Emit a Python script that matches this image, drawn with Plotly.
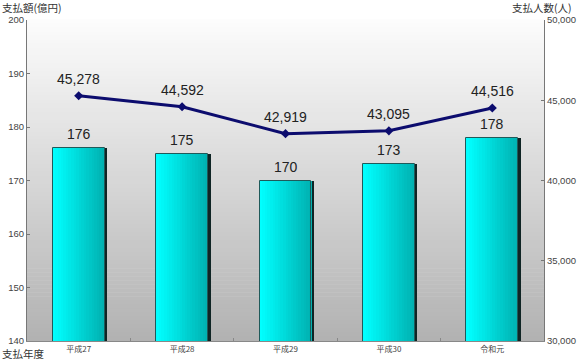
import plotly.graph_objects as go

years = ["平成27", "平成28", "平成29", "平成30", "令和元"]
amount = [176, 175, 170, 173, 178]          # 支払額(億円)
people = [45278, 44592, 42919, 43095, 44516]  # 支払人数(人)
left_ticks = [140, 150, 160, 170, 180, 190, 200]
right_ticks = [30000, 35000, 40000, 45000, 50000]
right_tick_text = ["30,000", "35,000", "40,000", "45,000", "50,000"]

NUM_FONT = "Liberation Sans, Arial, sans-serif"
LBL_FONT = "Liberation Sans Narrow, Arial Narrow, Liberation Sans, sans-serif"
JP_FONT = "Noto Sans CJK JP, sans-serif"

W, H = 583, 360
ML, MR, MT, MB = 27, 39, 20, 19
PW = W - ML - MR
PH = H - MT - MB

fig = go.Figure()

# shadow of bars (dark right edge)
fig.add_trace(go.Bar(x=years, y=amount, width=0.03, offset=0.245,
                     marker=dict(color="#0f2424", line=dict(width=0)),
                     hoverinfo="skip", showlegend=False))

# bars with horizontal gradient (slices)
n = 20
bw = 0.5
for i in range(n):
    t = i / (n - 1)
    g = int(round(255 - t * (255 - 178)))
    col = f"rgb(0,{g},{g})"
    fig.add_trace(go.Bar(x=years, y=amount, width=bw / n + 0.002,
                         offset=-bw / 2 + i * bw / n,
                         marker=dict(color=col, line=dict(width=0)),
                         hoverinfo="skip", showlegend=False))
# outline
fig.add_trace(go.Bar(x=years, y=amount, width=bw, offset=-bw / 2,
                     marker=dict(color="rgba(0,0,0,0)", line=dict(width=1, color="#1f5a5a")),
                     hoverinfo="skip", showlegend=False))

# line
fig.add_trace(go.Scatter(x=years, y=people, yaxis="y2", mode="lines+markers",
                         line=dict(color="#0c0c6e", width=3),
                         marker=dict(symbol="diamond", size=7, color="#0c0c6e"),
                         showlegend=False, hoverinfo="skip"))

annotations = []
for x, v in zip(years, amount):
    annotations.append(dict(x=x, y=v, xref="x", yref="y", text=str(v), showarrow=False,
                            yshift=14, font=dict(family=LBL_FONT, size=14, color="#222222")))
for x, v in zip(years, people):
    annotations.append(dict(x=x, y=v, xref="x", yref="y2", text=f"{v:,}", showarrow=False,
                            yshift=17, font=dict(family=LBL_FONT, size=14, color="#222222")))
annotations += [
    dict(x=-ML / PW, y=1 + (MT - 8) / PH, xref="paper", yref="paper", xanchor="left",
         yanchor="middle", text="支払額(億円)", showarrow=False,
         font=dict(family=JP_FONT, size=10.5, color="#333333")),
    dict(x=1 + 30 / PW, y=1 + (MT - 8) / PH, xref="paper", yref="paper", xanchor="right",
         yanchor="middle", text="支払人数(人)", showarrow=False,
         font=dict(family=JP_FONT, size=10.5, color="#333333")),
    dict(x=-ML / PW, y=-12 / PH, xref="paper", yref="paper", xanchor="left",
         yanchor="middle", text="支払年度", showarrow=False,
         font=dict(family=JP_FONT, size=10.5, color="#333333")),
]

# vertical gradient background
shapes = []
m = 80
for i in range(m):
    t = i / (m - 1)
    c = int(round(252 - t * (252 - 178)))
    shapes.append(dict(type="rect", xref="paper", yref="paper", x0=0, x1=1,
                       y0=1 - (i + 1) / m, y1=1 - i / m + 0.002, layer="below",
                       line=dict(width=0), fillcolor=f"rgb({c},{c},{c})"))

fig.update_layout(
    width=W, height=H,
    margin=dict(l=ML, r=MR, t=MT, b=MB, autoexpand=False),
    paper_bgcolor="white", plot_bgcolor="white",
    barmode="overlay", bargap=0,
    shapes=shapes, annotations=annotations,
    xaxis=dict(type="category", showgrid=False, showline=True, linecolor="#888888",
               ticks="inside", ticklen=3, tickcolor="#888888", tickson="boundaries",
               automargin=False,
               tickfont=dict(family=JP_FONT, size=8, color="#444444"), mirror=False),
    yaxis=dict(range=[140, 200], tickvals=left_ticks, showgrid=False, zeroline=False,
               showline=True, linecolor="#777777", ticks="inside", ticklen=3,
               automargin=False,
               tickcolor="#777777", tickfont=dict(family=NUM_FONT, size=9.5, color="#444444")),
    yaxis2=dict(range=[30000, 50000], tickvals=right_ticks, ticktext=right_tick_text,
                overlaying="y", side="right", showgrid=False, zeroline=False,
                showline=True, linecolor="#777777", ticks="inside", ticklen=3,
                automargin=False,
                tickcolor="#777777", tickfont=dict(family=NUM_FONT, size=9.5, color="#444444")),
)

fig.write_html("out.html", config={"displayModeBar": False},
               post_script="document.body.style.margin='0';document.body.style.overflow='hidden';")
